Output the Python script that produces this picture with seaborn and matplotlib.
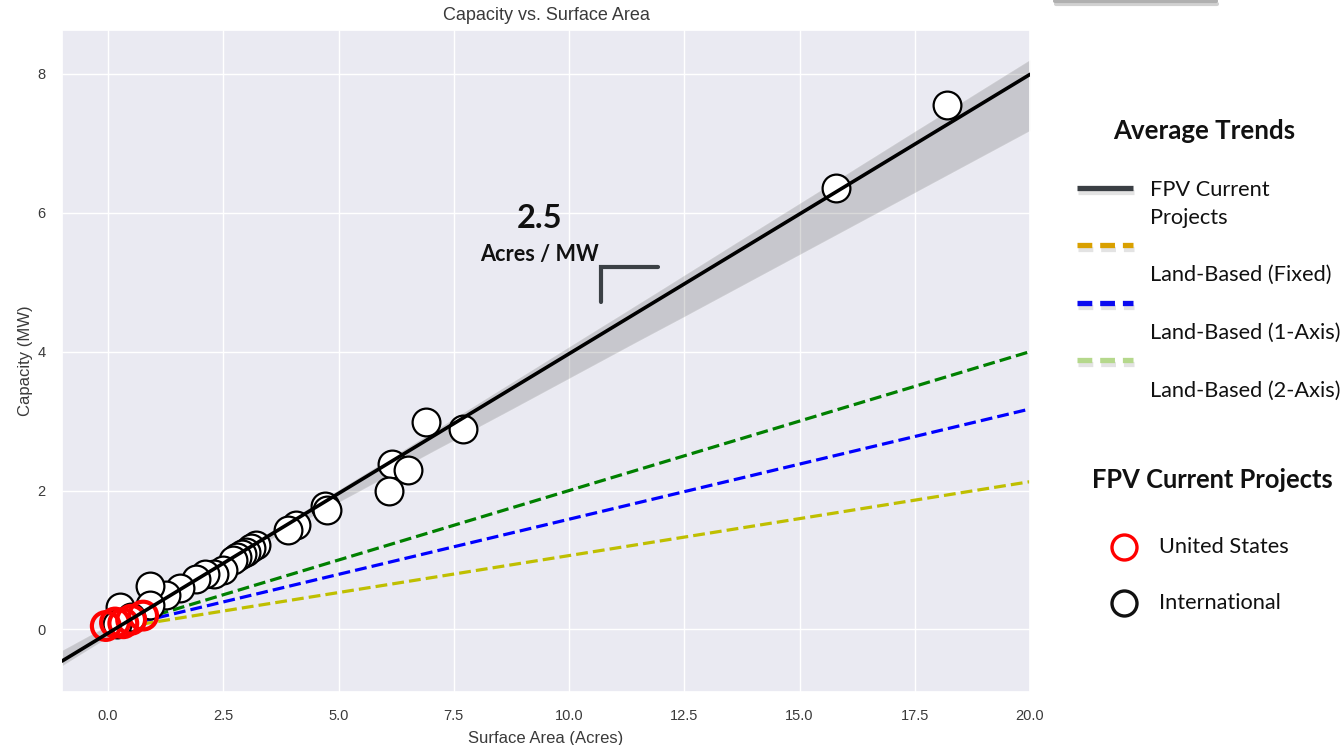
import numpy as np
import pandas as pd
import matplotlib
matplotlib.use("Agg")
import matplotlib.pyplot as plt
import matplotlib.patheffects as pe
from matplotlib.lines import Line2D
import seaborn as sns

# ---------------- data ----------------
intl_area = [18.2, 15.8, 7.7, 6.9, 6.15, 6.5, 6.1, 4.7, 4.75, 4.07, 3.91,
             3.2, 3.1, 3.0, 2.9, 2.8, 2.7, 2.5, 2.3, 2.1, 1.9, 1.55, 1.25,
             0.9, 0.9, 0.25, 0.5, 0.2]
intl_cap = [7.55, 6.35, 2.88, 2.98, 2.38, 2.3, 1.99, 1.78, 1.72, 1.5, 1.43,
            1.22, 1.18, 1.12, 1.08, 1.04, 1.0, 0.86, 0.8, 0.8, 0.72, 0.6, 0.5,
            0.63, 0.35, 0.33, 0.18, 0.08]
us_area = [-0.05, 0.15, 0.33, 0.5, 0.76]
us_cap = [0.05, 0.1, 0.09, 0.14, 0.2]

trend_x = [0.0, 20.0]
land_acres_per_mw = [5.0, 6.3, 9.4]          # fixed, 1-axis, 2-axis
land_plot_colors = ["#008000", "#0000ff", "#bfbf00"]
legend_labels = ["FPV Current\nProjects", "Land-Based (Fixed)",
                 "Land-Based (1-Axis)", "Land-Based (2-Axis)"]
legend_colors = ["#3a3f44", "#d9a000", "#0a0af0", "#b5d88c"]
project_labels = ["United States", "International"]
project_colors = ["#ff0000", "#111111"]

x_ticks = [0.0, 2.5, 5.0, 7.5, 10.0, 12.5, 15.0, 17.5, 20.0]
y_ticks = [0, 2, 4, 6, 8]

# ---------------- style ----------------
sns.set_theme(style="darkgrid")
plt.rcParams["font.family"] = ["Liberation Sans", "DejaVu Sans"]
plt.rcParams["text.color"] = "#3a3a3a"
plt.rcParams["axes.labelcolor"] = "#3a3a3a"
plt.rcParams["xtick.color"] = "#3a3a3a"
plt.rcParams["ytick.color"] = "#3a3a3a"

W, H = 1344, 745
fig = plt.figure(figsize=(W / 100, H / 100), dpi=100)
ax = fig.add_axes([62 / W, 1 - 692 / H, (1030 - 62) / W, (692 - 30) / H])
ax.set_xlim(-1.0, 20.0)
ax.set_ylim(-0.9, 8.63)

# land-based trend lines (under the circles)
for apm, col in zip(land_acres_per_mw, land_plot_colors):
    ty = [xv / apm for xv in trend_x]
    sns.lineplot(x=trend_x, y=ty, ax=ax, color=col, lw=2.3,
                 linestyle="--", zorder=2)

# project points
df_intl = pd.DataFrame({"area": intl_area, "cap": intl_cap})
df_us = pd.DataFrame({"area": us_area, "cap": us_cap})
sns.scatterplot(data=df_intl, x="area", y="cap", ax=ax, s=400,
                facecolor="white", edgecolor="black", linewidth=1.6,
                zorder=3)
sns.scatterplot(data=df_us, x="area", y="cap", ax=ax, s=400,
                facecolor="none", edgecolor="red", linewidth=3,
                zorder=4)

# regression over all projects
df_all = pd.concat([df_intl, df_us], ignore_index=True)
sns.regplot(data=df_all, x="area", y="cap", ax=ax, scatter=False,
            truncate=False, color="black", ci=95, seed=3,
            line_kws={"lw": 2.6, "zorder": 5})

ax.set_xlim(-1.0, 20.0)
ax.set_ylim(-0.9, 8.63)
ax.set_xticks(x_ticks)
ax.set_xticklabels([f"{v:.1f}" for v in x_ticks])
ax.set_yticks(y_ticks)
ax.tick_params(labelsize=10.5, pad=6)
ax.set_xlabel("Surface Area (Acres)", fontsize=12, labelpad=6)
ax.set_ylabel("Capacity (MW)", fontsize=12, labelpad=3)
ax.set_title("Capacity vs. Surface Area", fontsize=13, pad=7)

# slope annotation
def fx(px):
    return px / W

def fy(py):
    return 1 - py / H

ann_font = ["Lato", "DejaVu Sans"]
fig.text(fx(540), fy(218), "2.5", fontsize=23.5, fontweight="bold",
         ha="center", va="center", color="#111111", family=ann_font)
fig.text(fx(540), fy(254), "Acres / MW", fontsize=15.6, fontweight="bold",
         ha="center", va="center", color="#111111", family=ann_font)
fig.add_artist(Line2D([fx(601), fx(601), fx(658)], [fy(302), fy(267), fy(267)],
                      transform=fig.transFigure, color="#3b4045", lw=3,
                      solid_joinstyle="miter"))

# top-right partial box edge
fig.add_artist(Line2D([fx(1055), fx(1216)], [fy(1), fy(1)],
                      transform=fig.transFigure, color="#b0b0b0", lw=3,
                      path_effects=[pe.SimpleLineShadow(offset=(1, -2), alpha=0.2),
                                    pe.Normal()]))

# custom legend: Average Trends
fig.text(fx(1204), fy(131), "Average Trends", fontsize=18.6, fontweight="bold",
         ha="center", va="center", color="#111111", family=ann_font)
line_y = [188, 245, 303, 360]
text_y = [204, 275, 333, 391]
for i, (lab, col) in enumerate(zip(legend_labels, legend_colors)):
    ls = "-" if i == 0 else (0, (2.8, 1.5))
    fig.add_artist(Line2D([fx(1077), fx(1133)], [fy(line_y[i]), fy(line_y[i])],
                          transform=fig.transFigure, color=col, lw=3.8,
                          linestyle=ls, solid_capstyle="butt",
                          dash_capstyle="butt",
                          path_effects=[pe.SimpleLineShadow(offset=(1, -3), alpha=0.12),
                                        pe.Normal()]))
    fig.text(fx(1150), fy(text_y[i]), lab, fontsize=15.7, ha="left",
             va="center", color="#111111", family=ann_font, linespacing=1.45)

# custom legend: FPV Current Projects
fig.text(fx(1212), fy(480), "FPV Current Projects", fontsize=18.4,
         fontweight="bold", ha="center", va="center", color="#111111",
         family=ann_font)
circ_y = [547, 603]
for lab, col, cy in zip(project_labels, project_colors, circ_y):
    fig.add_artist(Line2D([fx(1124)], [fy(cy)], transform=fig.transFigure,
                          marker="o", markersize=18, markerfacecolor="none",
                          markeredgecolor=col, markeredgewidth=2.4,
                          linestyle="none"))
    fig.text(fx(1159), fy(cy), lab, fontsize=15.7, ha="left", va="center",
             color="#111111", family=ann_font)

fig.savefig("out.png", dpi=100)
